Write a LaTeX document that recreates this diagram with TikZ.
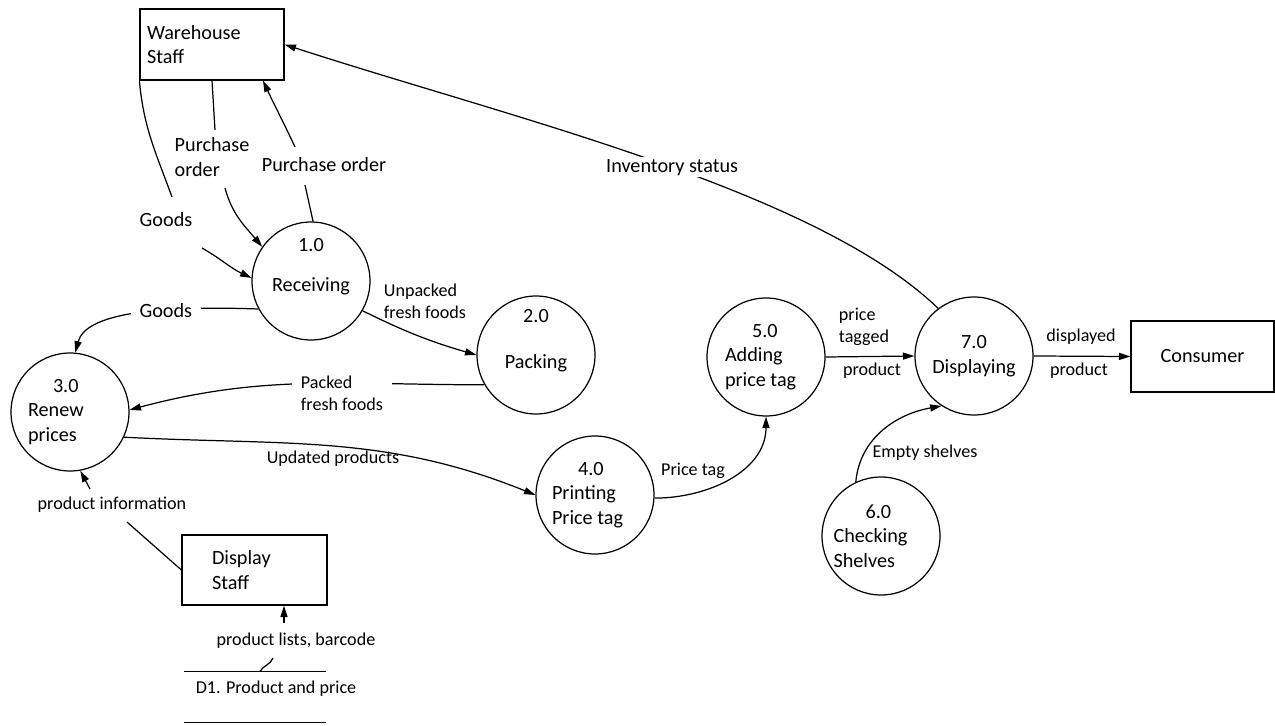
\documentclass[tikz,border=0pt]{standalone}
\usepackage{fontspec}
\setmainfont{Carlito}
\usetikzlibrary{arrows.meta}
\newcommand{\dfdbig}{\fontsize{11.5}{14}\selectfont}
\newcommand{\dfdsmall}{\fontsize{10.3}{12.4}\selectfont}

\begin{document}
\begin{tikzpicture}[x=0.02cm, y=0.02cm, line width=0.7pt,
  >={Triangle[length=6.5pt,width=4pt]},
  proc/.style={circle, draw, minimum size=2.36cm, inner sep=0pt, font=\dfdbig},
  ent/.style={draw, inner sep=0pt, font=\dfdbig},
  lbl/.style={font=\dfdsmall, align=left, inner sep=1pt},
  lblbig/.style={font=\dfdbig, align=left, inner sep=1pt},
  gap/.style={fill=white, inner xsep=5pt}]
  \useasboundingbox (0,0) rectangle (1275,-726);

  % External entities
  \node[ent, minimum width=2.88cm, minimum height=1.42cm, text width=2.6cm, align=flush left] (wh) at (212,-44.5) {Warehouse\\Staff};
  \node[ent, minimum width=2.9cm, minimum height=1.4cm, text width=1.7cm, align=flush left] (dsp) at (254.5,-570) {Display\\Staff};
  \node[ent, minimum width=2.86cm, minimum height=1.42cm] (con) at (1202.5,-356.5) {Consumer};

  % Processes
  \node[proc, align=center] (rcv) at (311,-281) {1.0\\[8.7pt]Receiving\\\strut};
  \node[proc, align=center] (pak) at (536,-355) {2.0\\[12pt]Packing\\\strut};
  \node[proc, align=flush left, text width=1.68cm] (ren) at (70,-412) {\hspace*{0.5cm}3.0\\Renew\\prices};
  \node[proc, align=flush left, text width=1.72cm] (pr) at (595,-495) {\hspace*{0.52cm}4.0\\Printing\\Price tag};
  \node[proc, align=flush left, text width=1.64cm] (adp) at (766,-357) {\hspace*{0.54cm}5.0\\Adding\\price tag};
  \node[proc, align=flush left, text width=1.9cm] (chk) at (881,-536) {\hspace*{0.64cm}6.0\\Checking\\Shelves};
  \node[proc, align=center] (disp) at (974,-356) {7.0\\Displaying};

  % Data store
  \node[minimum width=2.8cm, minimum height=1cm, inner sep=0pt] (ds) at (255,-697) {};
  \draw (ds.north west) -- (ds.north east) (ds.south west) -- (ds.south east);
  \node[lbl] (dst) at (276,-689) {D1. Product and price};

  % Gaps in broken flows
  \coordinate (gA) at (172,-197);
  \coordinate (gB) at (202,-248);
  \coordinate (poA) at (215,-130);
  \coordinate (poB) at (225,-188);
  \coordinate (puA) at (305,-185);
  \coordinate (puB) at (295,-147);
  \coordinate (piA) at (127,-522);
  \coordinate (piB) at (90,-489);
  \coordinate (plA) at (273,-658);
  \coordinate (plB) at (284,-623);

  % Flows around receiving
  \draw (wh.south west) to[out=-85,in=110] (gA);
  \draw[->] (gB) to[out=-30,in=155] (rcv.177);
  \draw (wh.south) -- (poA);
  \draw[->] (poB) to[out=-75,in=130] (rcv.145);
  \draw (rcv.88) -- (puA);
  \draw[->] (puB) to[out=115,in=-65] ([xshift=1.02cm]wh.south);
  \draw[->] (rcv.208) to[out=178,in=75,out looseness=1.4,in looseness=0.55] node[lblbig,gap,pos=0.34] (lgd2) {Goods} (ren.85);
  \draw[->] (rcv.-30) to[bend right=5] (pak.west);

  % Flows to renew and printing
  \draw[->] (pak.210) to[out=180,in=15] (ren.2);
  \draw[->] (ren.-25) to[out=-3,in=158] (pr.west);
  \draw[->] (pr.-3) to[out=0,in=-90] (adp.south);

  % Flows to displaying
  \draw[->] (adp.east) -- (disp.west);
  \draw[->] (disp.east) -- (con.west);
  \draw[->] (chk.115) to[out=85,in=-170] (disp.-123);
  \draw[->] (disp.127) to[out=136,in=-18,out looseness=0.62,in looseness=0.87] node[lblbig,gap,pos=0.47] (linv) {Inventory status} (wh.east);

  % Display staff flows
  \draw (dsp.west) -- (piA);
  \draw[->] (piB) -- (ren.-80);
  \draw ([xshift=0.1cm]ds.north) to[out=60,in=-110] (plA);
  \draw[->] (plB) -- (dsp.south -| plB);

  % Labels
  \node[lblbig] (lgd1) at (166,-220) {Goods};
  \node[lblbig] (lpo1) at (212,-157) {Purchase\\order};
  \node[lblbig] (lpo2) at (324,-165) {Purchase order};
  \node[lbl] (lunp) at (425,-301) {Unpacked\\fresh foods};
  \node[lbl,gap] (lpak) at (342,-393) {Packed\\fresh foods};
  \node[lbl] (lupd) at (333,-459) {Updated products};
  \node[lbl] (lpt) at (693,-471) {Price tag};
  \node[lbl] (lptg) at (864,-327) {price\\tagged};
  \node[lbl] (lprd1) at (872,-371) {product};
  \node[lbl] (ldsp) at (1081,-337) {displayed};
  \node[lbl] (lprd2) at (1079,-371) {product};
  \node[lbl] (lemp) at (925,-453) {Empty shelves};
  \node[lbl] (lpi) at (112,-505) {product information};
  \node[lbl] (lpl) at (296,-641) {product lists, barcode};
\end{tikzpicture}
\end{document}
